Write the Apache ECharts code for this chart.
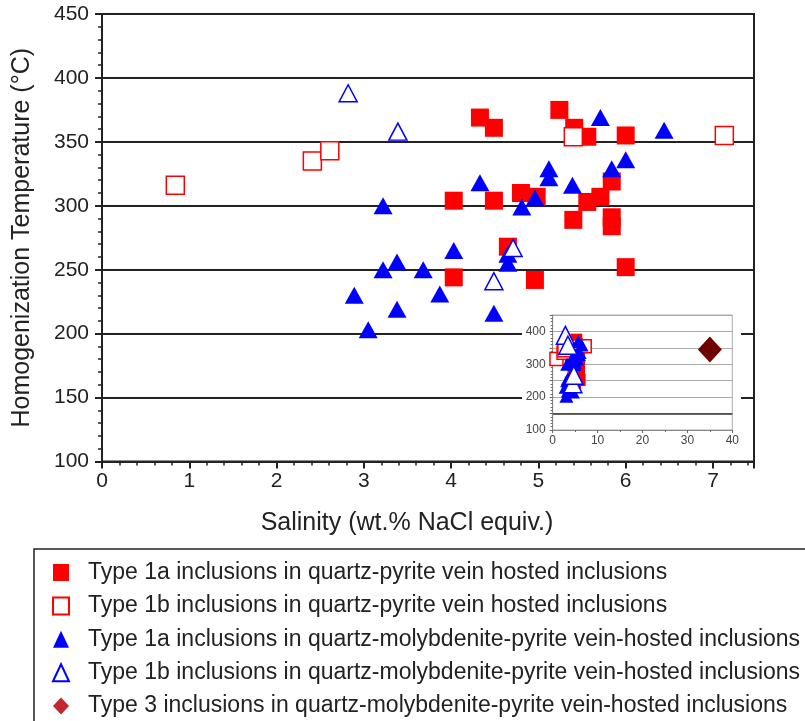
<!DOCTYPE html>
<html><head><meta charset="utf-8">
<script src="https://cdn.jsdelivr.net/npm/echarts@6/dist/echarts.min.js"></script>
<style>html,body{margin:0;padding:0;background:#fff}#c{width:805px;height:721px}</style>
</head><body><div id="c"></div>
<script>
// Salinity (wt.% NaCl equiv.), Homogenization temperature (°C)
const type1aPyrite = [[4.33,369],[4.49,361],[5.24,375],[5.41,361],[5.56,354],[6.0,355],[4.03,304],[4.49,304],[4.80,310],[4.98,307],[5.40,289],[5.56,303],[5.71,307],[5.84,319],[5.84,291],[5.84,284],[4.03,244],[4.65,268],[4.96,242],[6.0,252]];
const type1bPyrite = [[0.84,316],[2.41,335],[2.61,343],[5.40,354],[7.13,355]];
const type1aMoly = [[3.22,300],[3.22,250],[3.38,256],[3.68,250],[2.89,230],[3.38,219],[3.05,203],[3.87,231],[4.03,265],[4.49,216],[4.33,318],[4.81,299],[4.96,306],[5.12,329],[5.12,322],[5.39,316],[5.71,369],[6.44,359],[6.0,336],[5.84,329],[4.65,262],[4.65,255]];
const type1bMoly = [[2.82,388],[3.39,358],[4.49,241],[4.71,267]];
const type3Moly = [[35,345]];
const seriesNames = [
  'Type 1a inclusions in quartz-pyrite vein hosted inclusions',
  'Type 1b inclusions in quartz-pyrite vein hosted inclusions',
  'Type 1a inclusions in quartz-molybdenite-pyrite vein-hosted inclusions',
  'Type 1b inclusions in quartz-molybdenite-pyrite vein-hosted inclusions',
  'Type 3 inclusions in quartz-molybdenite-pyrite vein-hosted inclusions'
];
const xTitle = 'Salinity (wt.% NaCl equiv.)';
const yTitle = 'Homogenization Temperature (°C)';

const FONT = '"Liberation Sans", Arial, Helvetica, sans-serif';
const INK = '#222';
const chart = echarts.init(document.getElementById('c'), null, {renderer: 'canvas'});

const styles = [
  {symbol: 'rect', itemStyle: {color: '#ff0000', opacity: 1}, main: 18, inset: 12},
  {symbol: 'rect', itemStyle: {color: '#ffffff', borderColor: '#ff0000', borderWidth: 1.5, opacity: 1}, main: 18, inset: 13},
  {symbol: 'triangle', itemStyle: {color: '#0000ff', opacity: 1}, main: [19, 17], inset: [14, 13]},
  {symbol: 'triangle', itemStyle: {color: '#ffffff', borderColor: '#0000ff', borderWidth: 1.5, opacity: 1}, main: [18, 17], inset: [18, 18]}
];
const datasets = [type1aPyrite, type1bPyrite, type1aMoly, type1bMoly];

const series = [];
datasets.forEach((d, i) => {
  series.push({name: seriesNames[i], type: 'scatter', xAxisIndex: 0, yAxisIndex: 0, data: d,
    symbol: styles[i].symbol, symbolSize: styles[i].main, itemStyle: styles[i].itemStyle, z: 2 + i});
});
datasets.forEach((d, i) => {
  series.push({name: seriesNames[i], type: 'scatter', xAxisIndex: 1, yAxisIndex: 1, data: d,
    symbol: styles[i].symbol, symbolSize: styles[i].inset, itemStyle: styles[i].itemStyle, z: 10 + i});
});
series.push({name: seriesNames[4], type: 'scatter', xAxisIndex: 1, yAxisIndex: 1, data: type3Moly,
  symbol: 'diamond', symbolSize: [24, 26], itemStyle: {color: '#6e0000', opacity: 1}, z: 15,
  markLine: {silent: true, symbol: 'none', label: {show: false},
    lineStyle: {color: '#333', width: 1.5, type: 'solid'}, data: [{yAxis: 150}]}});

const option = {
  animation: false,
  backgroundColor: '#fff',
  textStyle: {fontFamily: FONT},
  graphic: [{type: 'rect', z: 1, silent: true, shape: {x: 522, y: 305, width: 219, height: 147}, style: {fill: '#fff'}}],
  grid: [
    {left: 102, top: 14, right: 51, bottom: 259.5, show: true, borderColor: INK, borderWidth: 2, z: 0, containLabel: false, outerBoundsMode: 'none'},
    {left: 552.7, top: 315, width: 179.6, height: 115, show: true, borderColor: '#aaa', borderWidth: 1, z: 5, containLabel: false, outerBoundsMode: 'none'}
  ],
  xAxis: [
    {gridIndex: 0, type: 'value', position: 'bottom', min: 0, max: 7.47, interval: 1,
      axisLine: {show: true, lineStyle: {color: INK, width: 2}},
      axisTick: {show: true, length: 7, lineStyle: {color: INK, width: 2}},
      minorTick: {show: false},
      splitLine: {show: false},
      axisLabel: {color: INK, fontSize: 21, margin: 9, fontFamily: FONT,
        formatter: v => (Math.abs(v - Math.round(v)) < 1e-6 ? String(Math.round(v)) : '')},
      name: xTitle, nameLocation: 'middle', nameGap: 49,
      nameTextStyle: {color: INK, fontSize: 25, fontFamily: FONT, padding: [0, 42, 0, 0]}},
    {gridIndex: 1, type: 'value', position: 'bottom', min: 0, max: 40, interval: 10, z: 5,
      axisLine: {show: true, lineStyle: {color: '#888', width: 1}},
      axisTick: {show: true, length: 3, lineStyle: {color: '#666', width: 1}},
      minorTick: {show: true, splitNumber: 2, length: 2, lineStyle: {color: '#666', width: 1}},
      splitLine: {show: false},
      axisLabel: {color: '#444', fontSize: 12, margin: 5, fontFamily: FONT}},
    {gridIndex: 0, type: 'value', position: 'bottom', min: 0, max: 7.47, interval: 0.2,
      axisLine: {show: false}, axisLabel: {show: false}, splitLine: {show: false},
      axisTick: {show: true, length: 4, lineStyle: {color: INK, width: 1.5}}}
  ],
  yAxis: [
    {gridIndex: 0, type: 'value', position: 'left', min: 100, max: 450, interval: 50,
      axisLine: {show: true, lineStyle: {color: INK, width: 2}},
      axisTick: {show: true, length: 7, lineStyle: {color: INK, width: 2}},
      minorTick: {show: true, splitNumber: 5, length: 4, lineStyle: {color: INK, width: 1.5}},
      splitLine: {show: true, lineStyle: {color: INK, width: 2}},
      axisLabel: {color: INK, fontSize: 21, margin: 13, fontFamily: FONT},
      name: yTitle, nameLocation: 'middle', nameGap: 67, nameRotate: 90,
      nameTextStyle: {color: INK, fontSize: 25, fontFamily: FONT}},
    {gridIndex: 1, type: 'value', position: 'left', min: 100, max: 450, interval: 50, z: 5,
      axisLine: {show: true, lineStyle: {color: '#888', width: 1}},
      axisTick: {show: true, length: 3, lineStyle: {color: '#666', width: 1}},
      minorTick: {show: true, splitNumber: 5, length: 2, lineStyle: {color: '#666', width: 1}},
      splitLine: {show: true, lineStyle: {color: '#aaa', width: 1}},
      axisLabel: {color: '#444', fontSize: 12, margin: 7, fontFamily: FONT,
        formatter: v => (v % 100 === 0 && v < 450 ? String(v) : '')}}
  ],
  legend: {
    orient: 'vertical', left: 34, top: 549, width: 1000, height: 400,
    backgroundColor: '#fff', borderColor: INK, borderWidth: 1.5, borderRadius: 0,
    padding: [12, 20, 14, 18],
    itemWidth: 16, itemHeight: 17, itemGap: 10.4,
    selectedMode: false,
    textStyle: {fontSize: 23, color: INK, fontFamily: FONT, lineHeight: 23, padding: [0, 0, 0, 14]},
    data: [
      {name: seriesNames[0], icon: 'rect'},
      {name: seriesNames[1], icon: 'rect'},
      {name: seriesNames[2], icon: 'triangle'},
      {name: seriesNames[3], icon: 'triangle'},
      {name: seriesNames[4], icon: 'diamond', itemStyle: {color: '#c1272d'}}
    ]
  },
  series: series
};
chart.setOption(option);
</script>
</body></html>
